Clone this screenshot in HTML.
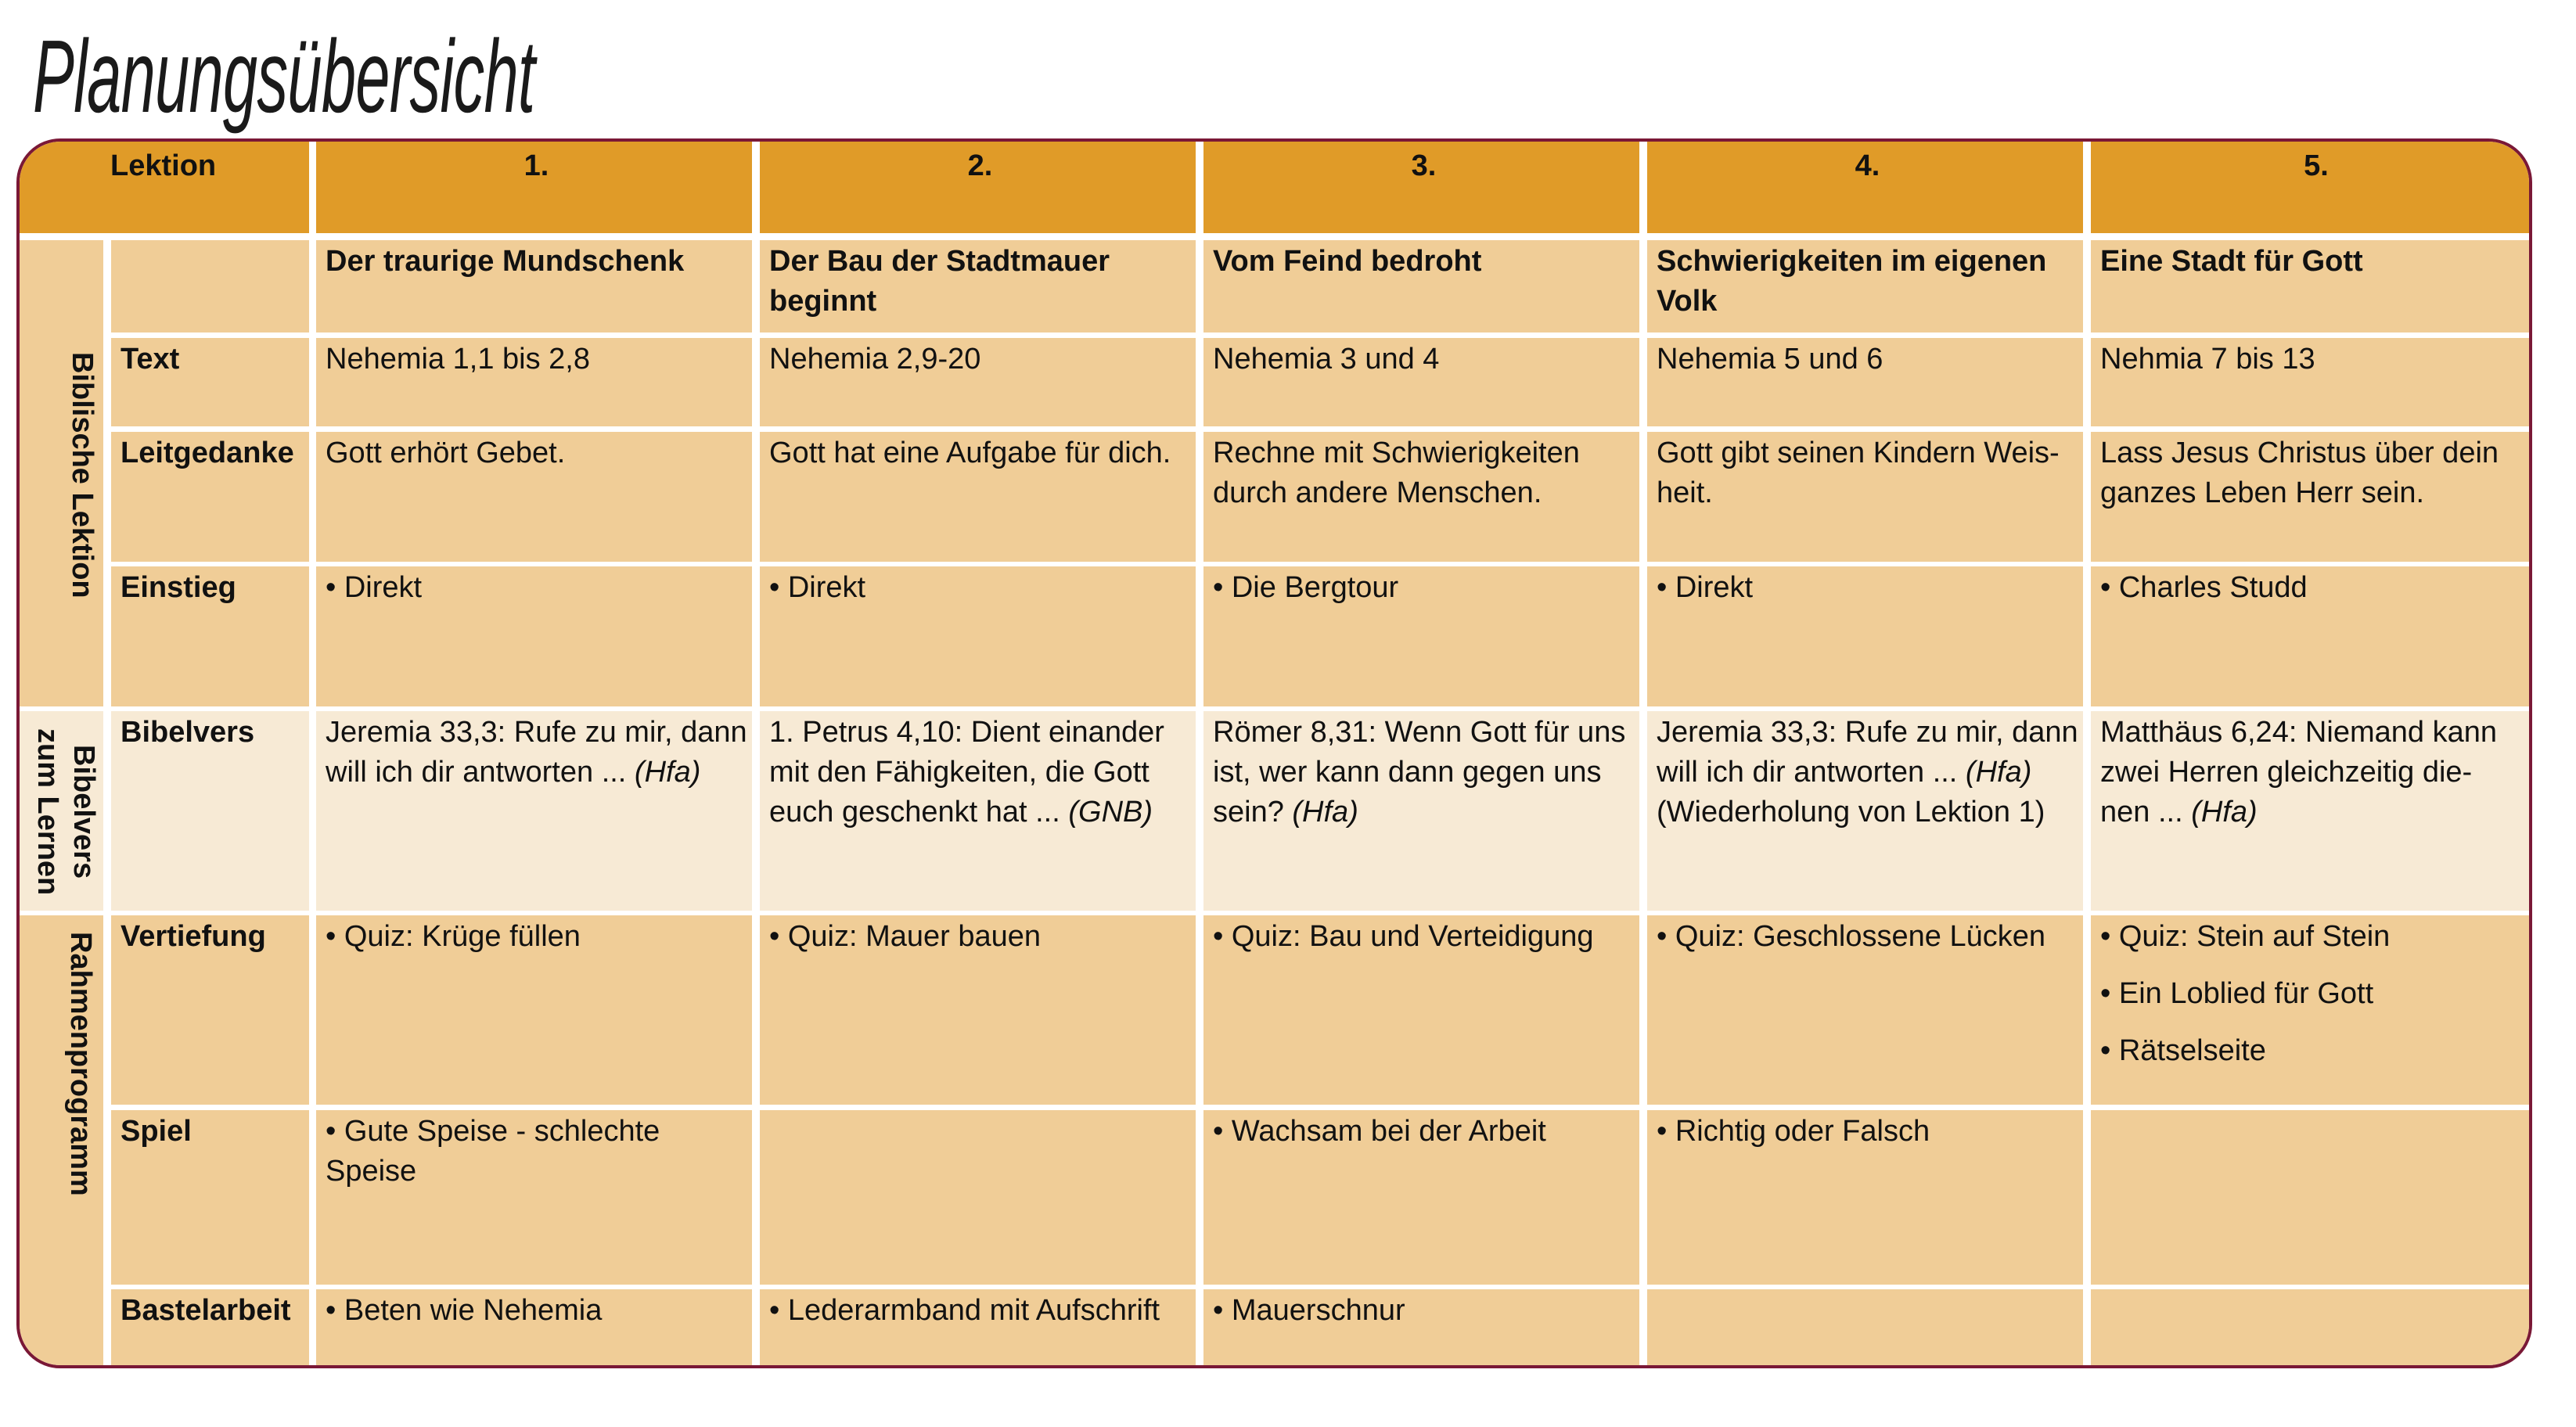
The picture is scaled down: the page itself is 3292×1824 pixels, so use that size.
<!DOCTYPE html>
<html><head><meta charset="utf-8">
<style>
*{margin:0;padding:0;box-sizing:border-box}
body{width:3292px;height:1824px;background:#fff;position:relative;overflow:hidden;font-family:"Liberation Sans",sans-serif;color:#111}
.title{position:absolute;left:42px;top:22px;font-size:132px;font-style:italic;transform:scaleX(0.6);transform-origin:0 0;white-space:nowrap;letter-spacing:-1px;font-weight:normal;color:#1a1a1a}
.box{position:absolute;left:21px;top:177px;width:3215px;height:1572px;border:4px solid #7a1836;border-radius:56px;overflow:hidden;background:#fff}
.c{position:absolute;background:#f0cd97;font-size:38px;line-height:51px;padding:2px 6px 0 12px;letter-spacing:0}
.h{background:#e09b28;font-weight:bold;text-align:center;padding-top:8px}
.l{background:#f7ead5}
.b{font-weight:bold}
.g{position:absolute;writing-mode:vertical-rl;font-weight:bold;font-size:38px;line-height:46px;text-align:center;white-space:nowrap}
i{font-style:italic}
.v div{margin-bottom:22px}
</style></head><body>
<div class="title">Planungsübersicht</div>
<div class="box">
<div style="position:absolute;left:-25px;top:-181px;width:3292px;height:1824px">
<!-- header -->
<div class="c h" style="left:23px;top:179px;width:372px;height:119px;text-align:left;padding-left:118px">Lektion</div>
<div class="c h" style="left:404px;top:179px;width:557px;height:119px">1.</div>
<div class="c h" style="left:971px;top:179px;width:557px;height:119px">2.</div>
<div class="c h" style="left:1538px;top:179px;width:557px;height:119px">3.</div>
<div class="c h" style="left:2105px;top:179px;width:557px;height:119px">4.</div>
<div class="c h" style="left:2672px;top:179px;width:570px;height:119px">5.</div>
<!-- group column -->
<div class="c" style="left:23px;top:307px;width:109px;height:596px;padding:0"></div>
<div class="c l" style="left:23px;top:909px;width:109px;height:255px;padding:0"></div>
<div class="c" style="left:23px;top:1170px;width:109px;height:600px;padding:0"></div>
<div class="g" style="left:82px;top:440px;width:46px;height:335px">Biblische Lektion</div>
<div class="g" style="left:32px;top:920px;width:98px;height:235px">Bibelvers<br>zum Lernen</div>
<div class="g" style="left:80px;top:1175px;width:46px;height:370px">Rahmenprogramm</div>

<!-- row: title -->
<div class="c b" style="left:142px;top:307px;width:253px;height:118px"></div>
<div class="c b" style="left:404px;top:307px;width:557px;height:118px">Der traurige Mundschenk</div>
<div class="c b" style="left:971px;top:307px;width:557px;height:118px">Der Bau der Stadtmauer beginnt</div>
<div class="c b" style="left:1538px;top:307px;width:557px;height:118px">Vom Feind bedroht</div>
<div class="c b" style="left:2105px;top:307px;width:557px;height:118px">Schwierigkeiten im eigenen Volk</div>
<div class="c b" style="left:2672px;top:307px;width:570px;height:118px">Eine Stadt für Gott</div>
<!-- Text -->
<div class="c b" style="left:142px;top:432px;width:253px;height:113px">Text</div>
<div class="c" style="left:404px;top:432px;width:557px;height:113px">Nehemia 1,1 bis 2,8</div>
<div class="c" style="left:971px;top:432px;width:557px;height:113px">Nehemia 2,9-20</div>
<div class="c" style="left:1538px;top:432px;width:557px;height:113px">Nehemia 3 und 4</div>
<div class="c" style="left:2105px;top:432px;width:557px;height:113px">Nehemia 5 und 6</div>
<div class="c" style="left:2672px;top:432px;width:570px;height:113px">Nehmia 7 bis 13</div>
<!-- Leitgedanke -->
<div class="c b" style="left:142px;top:552px;width:253px;height:166px">Leitgedanke</div>
<div class="c" style="left:404px;top:552px;width:557px;height:166px">Gott erhört Gebet.</div>
<div class="c" style="left:971px;top:552px;width:557px;height:166px">Gott hat eine Aufgabe für dich.</div>
<div class="c" style="left:1538px;top:552px;width:557px;height:166px">Rechne mit Schwierigkeiten<br>durch andere Menschen.</div>
<div class="c" style="left:2105px;top:552px;width:557px;height:166px">Gott gibt seinen Kindern Weis-<br>heit.</div>
<div class="c" style="left:2672px;top:552px;width:570px;height:166px">Lass Jesus Christus über dein<br>ganzes Leben Herr sein.</div>
<!-- Einstieg -->
<div class="c b" style="left:142px;top:724px;width:253px;height:179px">Einstieg</div>
<div class="c" style="left:404px;top:724px;width:557px;height:179px">• Direkt</div>
<div class="c" style="left:971px;top:724px;width:557px;height:179px">• Direkt</div>
<div class="c" style="left:1538px;top:724px;width:557px;height:179px">• Die Bergtour</div>
<div class="c" style="left:2105px;top:724px;width:557px;height:179px">• Direkt</div>
<div class="c" style="left:2672px;top:724px;width:570px;height:179px">• Charles Studd</div>
<!-- Bibelvers -->
<div class="c l b" style="left:142px;top:909px;width:253px;height:255px">Bibelvers</div>
<div class="c l" style="left:404px;top:909px;width:557px;height:255px">Jeremia 33,3: Rufe zu mir, dann<br>will ich dir antworten ... <i>(Hfa)</i></div>
<div class="c l" style="left:971px;top:909px;width:557px;height:255px">1. Petrus 4,10: Dient einander<br>mit den Fähigkeiten, die Gott<br>euch geschenkt hat ... <i>(GNB)</i></div>
<div class="c l" style="left:1538px;top:909px;width:557px;height:255px">Römer 8,31: Wenn Gott für uns<br>ist, wer kann dann gegen uns<br>sein? <i>(Hfa)</i></div>
<div class="c l" style="left:2105px;top:909px;width:557px;height:255px">Jeremia 33,3: Rufe zu mir, dann<br>will ich dir antworten ... <i>(Hfa)</i><br>(Wiederholung von Lektion 1)</div>
<div class="c l" style="left:2672px;top:909px;width:570px;height:255px">Matthäus 6,24: Niemand kann<br>zwei Herren gleichzeitig die-<br>nen ... <i>(Hfa)</i></div>
<!-- Vertiefung -->
<div class="c b" style="left:142px;top:1170px;width:253px;height:242px">Vertiefung</div>
<div class="c" style="left:404px;top:1170px;width:557px;height:242px">• Quiz: Krüge füllen</div>
<div class="c" style="left:971px;top:1170px;width:557px;height:242px">• Quiz: Mauer bauen</div>
<div class="c" style="left:1538px;top:1170px;width:557px;height:242px">• Quiz: Bau und Verteidigung</div>
<div class="c" style="left:2105px;top:1170px;width:557px;height:242px">• Quiz: Geschlossene Lücken</div>
<div class="c v" style="left:2672px;top:1170px;width:570px;height:242px"><div>• Quiz: Stein auf Stein</div><div>• Ein Loblied für Gott</div><div>• Rätselseite</div></div>
<!-- Spiel -->
<div class="c b" style="left:142px;top:1419px;width:253px;height:223px">Spiel</div>
<div class="c" style="left:404px;top:1419px;width:557px;height:223px">• Gute Speise - schlechte<br>Speise</div>
<div class="c" style="left:971px;top:1419px;width:557px;height:223px"></div>
<div class="c" style="left:1538px;top:1419px;width:557px;height:223px">• Wachsam bei der Arbeit</div>
<div class="c" style="left:2105px;top:1419px;width:557px;height:223px">• Richtig oder Falsch</div>
<div class="c" style="left:2672px;top:1419px;width:570px;height:223px"></div>
<!-- Bastelarbeit -->
<div class="c b" style="left:142px;top:1648px;width:253px;height:120px">Bastelarbeit</div>
<div class="c" style="left:404px;top:1648px;width:557px;height:120px">• Beten wie Nehemia</div>
<div class="c" style="left:971px;top:1648px;width:557px;height:120px">• Lederarmband mit Aufschrift</div>
<div class="c" style="left:1538px;top:1648px;width:557px;height:120px">• Mauerschnur</div>
<div class="c" style="left:2105px;top:1648px;width:557px;height:120px"></div>
<div class="c" style="left:2672px;top:1648px;width:570px;height:120px"></div>
</div>
</div>
</body></html>
